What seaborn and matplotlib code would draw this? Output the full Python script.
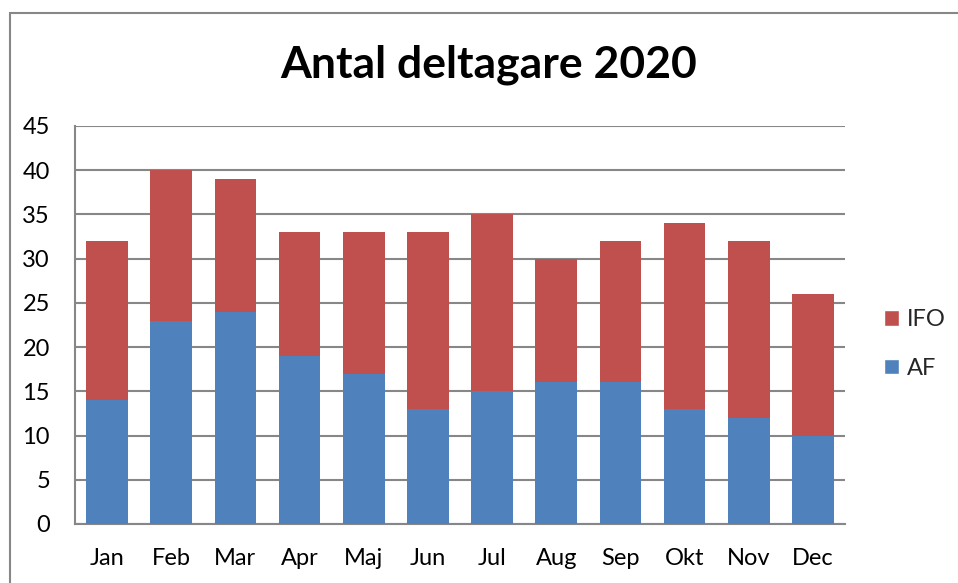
import matplotlib
matplotlib.use("Agg")
import matplotlib.pyplot as plt
import seaborn as sns
import pandas as pd
from matplotlib.patches import Rectangle, Patch

months = ["Jan", "Feb", "Mar", "Apr", "Maj", "Jun", "Jul", "Aug", "Sep", "Okt", "Nov", "Dec"]
af = [14, 23, 24, 19, 17, 13, 15, 16, 16, 13, 12, 10]
ifo = [18, 17, 15, 14, 16, 20, 20, 14, 16, 21, 20, 16]
yticks = [0, 5, 10, 15, 20, 25, 30, 35, 40, 45]

RED = "#C0504D"
BLUE = "#4F81BD"
GRID = "#878787"

df = pd.DataFrame({"month": months, "AF": af, "IFO": ifo})
df["total"] = df["AF"] + df["IFO"]

sns.set_style("white")
plt.rcParams["font.family"] = ["Lato", "DejaVu Sans"]

fig = plt.figure(figsize=(9.58, 5.83), dpi=100)
ax = fig.add_axes([75 / 958, 1 - 524 / 583, (845 - 75) / 958, (524 - 126) / 583])

sns.barplot(data=df, x="month", y="total", color=RED, width=0.65, ax=ax,
            saturation=1, zorder=3, linewidth=0, edgecolor="none")
sns.barplot(data=df, x="month", y="AF", color=BLUE, width=0.65, ax=ax,
            saturation=1, zorder=4, linewidth=0, edgecolor="none")

ax.set_ylim(0, 45)
ax.set_xlim(-0.5, len(months) - 0.5)
ax.set_yticks(yticks)
ax.set_yticklabels([str(v) for v in yticks])
ax.yaxis.grid(True, color=GRID, linewidth=1.5, zorder=0)
ax.set_axisbelow(True)
ax.set_xlabel("")
ax.set_ylabel("")
for s in ["top", "right"]:
    ax.spines[s].set_visible(False)
for s in ["left", "bottom"]:
    ax.spines[s].set_color(GRID)
    ax.spines[s].set_linewidth(1.5)
ax.tick_params(axis="y", length=0, pad=18, labelsize=17, labelcolor="black")
ax.tick_params(axis="x", length=0, pad=17, labelsize=17, labelcolor="black")

fig.text(489 / 958, 1 - 65 / 583, "Antal deltagare 2020", ha="center", va="center",
         fontsize=32, fontweight="bold", color="black")

handles = [Patch(facecolor=RED, label="IFO"), Patch(facecolor=BLUE, label="AF")]
fig.legend(handles=handles, loc="center left", bbox_to_anchor=(884 / 958, 1 - 344 / 583),
           frameon=False, fontsize=17, handlelength=0.62, handleheight=0.62,
           handletextpad=0.35, labelspacing=1.15, borderaxespad=0, borderpad=0)

fig.patches.append(Rectangle((10 / 958, -0.1), 1.2, 1.1 - 13 / 583,
                             transform=fig.transFigure, fill=False,
                             edgecolor=GRID, linewidth=1.5))

fig.savefig("out.png", dpi=100)
